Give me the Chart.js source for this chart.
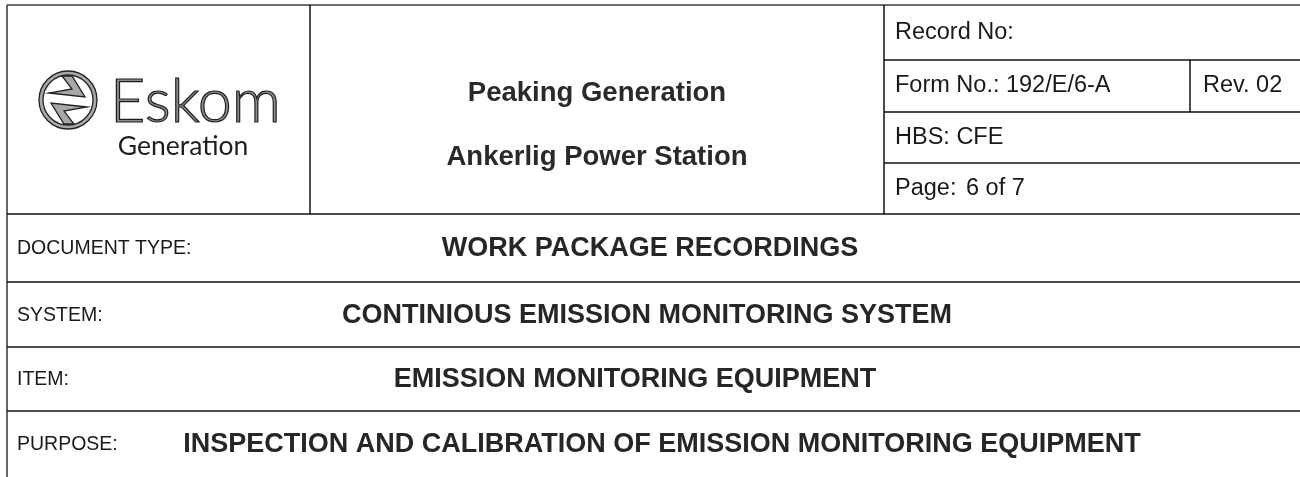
<!DOCTYPE html>
<html>
<head>
<meta charset="utf-8">
<script src="https://cdn.jsdelivr.net/npm/chart.js@4.4.1/dist/chart.umd.min.js"></script>
<style>
  html, body { margin: 0; padding: 0; background: #fff; }
  canvas { display: block; }
</style>
</head>
<body>
<canvas id="form" width="1300" height="477"></canvas>
<script>
// header texts
const brand = ["Eskom", "Generation"];
const station = ["Peaking Generation", "Ankerlig Power Station"];
const recordFields = ["Record No:", "Form No.: 192/E/6-A", "HBS: CFE", "Page:"];
const revision = "Rev. 02";
const pageValue = "6 of 7";
const rowLabels = ["DOCUMENT TYPE:", "SYSTEM:", "ITEM:", "PURPOSE:"];
const rowValues = [
  "WORK PACKAGE RECORDINGS",
  "CONTINIOUS EMISSION MONITORING SYSTEM",
  "EMISSION MONITORING EQUIPMENT",
  "INSPECTION AND CALIBRATION OF EMISSION MONITORING EQUIPMENT",
];

// sheet geometry, in canvas units
const layout = {
  left: 7,
  top: 5,
  right: 1300,
  bottom: 477,
  logoCol: 310,
  infoCol: 884,
  revCol: 1190,
  infoRows: [5, 60, 112, 163, 214],
  rows: [214, 282, 347, 411, 477],
  valueCenters: [650, 647, 635, 662],
};

const formPlugin = {
  id: "formSheet",
  afterDraw(chart) {
    const ctx = chart.ctx;
    const sx = (v) => chart.scales.x.getPixelForValue(v);
    const sy = (v) => chart.scales.y.getPixelForValue(v);

    const line = (x1, y1, x2, y2, color, width) => {
      ctx.beginPath();
      ctx.strokeStyle = color;
      ctx.lineWidth = width;
      ctx.moveTo(sx(x1), sy(y1));
      ctx.lineTo(sx(x2), sy(y2));
      ctx.stroke();
    };

    ctx.save();

    // frame
    line(layout.left, layout.top, layout.right, layout.top, "#6e6e6e", 2);
    line(layout.left, layout.top, layout.left, layout.bottom, "#333", 1.5);
    line(layout.logoCol, layout.top, layout.logoCol, layout.rows[0], "#111", 1.5);
    line(layout.infoCol, layout.top, layout.infoCol, layout.rows[0], "#111", 1.5);
    layout.infoRows.slice(1, 4).forEach((y) => line(layout.infoCol, y, layout.right, y, "#111", 1.3));
    line(layout.revCol, layout.infoRows[1], layout.revCol, layout.infoRows[2], "#111", 1.5);
    layout.rows.slice(0, 4).forEach((y) => line(layout.left, y, layout.right, y, "#111", 1.4));

    // logo symbol
    const cx = sx(68), cy = sy(100);
    ctx.strokeStyle = "#222";
    ctx.lineWidth = 1.3;
    ctx.fillStyle = "#a8a8a8";
    ctx.beginPath();
    ctx.arc(cx, cy, 29, 0, Math.PI * 2);
    ctx.arc(cx, cy, 25, 0, Math.PI * 2, true);
    ctx.fill();
    ctx.beginPath();
    ctx.arc(cx, cy, 29, 0, Math.PI * 2);
    ctx.stroke();
    ctx.beginPath();
    ctx.arc(cx, cy, 25, 0, Math.PI * 2);
    ctx.stroke();
    const bolt = [[-6, -24], [4, -24], [17, -3], [-19, -7], [4, -11]];
    [1, -1].forEach((s) => {
      ctx.beginPath();
      bolt.forEach(([px, py], i) => {
        const X = cx + s * px, Y = cy + s * py;
        if (i === 0) ctx.moveTo(X, Y); else ctx.lineTo(X, Y);
      });
      ctx.closePath();
      ctx.fill();
      ctx.stroke();
    });

    ctx.textBaseline = "alphabetic";
    ctx.textAlign = "left";
    ctx.font = "300 61px Lato";
    ctx.fillStyle = "#8c8c8c";
    ctx.fillText(brand[0], sx(110), sy(122));
    ctx.lineWidth = 1.2;
    ctx.strokeStyle = "#1e1e1e";
    ctx.strokeText(brand[0], sx(110), sy(122));

    ctx.textBaseline = "middle";
    ctx.textAlign = "center";
    ctx.fillStyle = "#1e1e1e";
    ctx.font = "400 26.5px Lato";
    ctx.fillText(brand[1], sx(183), sy(146));

    // station titles
    ctx.font = "bold 27.5px 'Liberation Sans'";
    ctx.fillStyle = "#2a2a2a";
    const mid = (layout.logoCol + layout.infoCol) / 2;
    ctx.fillText(station[0], sx(mid), sy(93));
    ctx.fillText(station[1], sx(mid), sy(157));

    // record block
    ctx.textAlign = "left";
    ctx.font = "23.5px 'Liberation Sans'";
    ctx.fillStyle = "#1a1a1a";
    recordFields.forEach((t, i) => {
      const y = (layout.infoRows[i] + layout.infoRows[i + 1]) / 2;
      ctx.fillText(t, sx(layout.infoCol + 11), sy(y));
    });
    const revY = (layout.infoRows[1] + layout.infoRows[2]) / 2;
    ctx.fillText(revision, sx(layout.revCol + 13), sy(revY));
    const pageY = (layout.infoRows[3] + layout.infoRows[4]) / 2;
    ctx.fillText(pageValue, sx(966), sy(pageY));

    // body rows
    rowLabels.forEach((t, i) => {
      const y = (layout.rows[i] + layout.rows[i + 1]) / 2 + 1;
      ctx.textAlign = "left";
      ctx.font = "19.5px 'Liberation Sans'";
      ctx.fillStyle = "#1a1a1a";
      ctx.fillText(t, sx(17), sy(y));
      ctx.textAlign = "center";
      ctx.font = "bold 27px 'Liberation Sans'";
      ctx.fillStyle = "#262626";
      ctx.fillText(rowValues[i], sx(layout.valueCenters[i]), sy(y));
    });

    ctx.restore();
  },
};

new Chart(document.getElementById("form"), {
  type: "scatter",
  data: { datasets: [] },
  options: {
    responsive: false,
    animation: false,
    devicePixelRatio: 1,
    layout: { padding: 0 },
    scales: {
      x: { display: false, min: 0, max: 1300 },
      y: { display: false, min: 0, max: 477, reverse: true },
    },
    plugins: {
      legend: { display: false },
      tooltip: { enabled: false },
    },
  },
  plugins: [formPlugin],
});
</script>
</body>
</html>
